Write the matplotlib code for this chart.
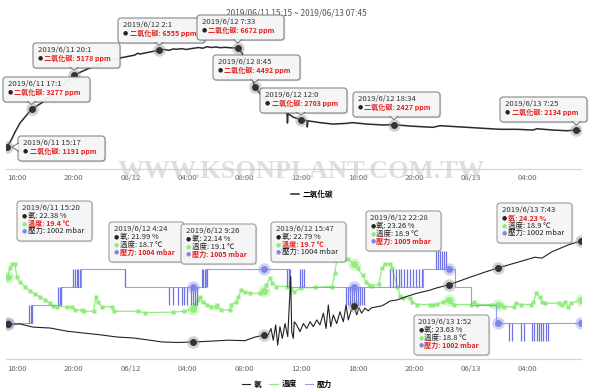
import matplotlib
matplotlib.use("Agg")
import matplotlib.pyplot as plt
from matplotlib.patches import FancyBboxPatch, Polygon
from matplotlib.lines import Line2D
from matplotlib.transforms import IdentityTransform

plt.rcParams['font.family'] = ['Noto Sans CJK TC', 'DejaVu Sans']

# ---------------- data (time = hours since 2019/06/11 00:00) ----------------
title = "2019/06/11 15:15 ~ 2019/06/13 07:45"
x_range = [15.25, 55.75]
tick_hours = [16, 20, 24, 28, 32, 36, 40, 44, 48, 52]
tick_labels = ['16:00', '20:00', '06/12', '04:00', '08:00', '12:00',
               '16:00', '20:00', '06/13', '04:00']

co2_name = '二氧化碳'
co2_t = [15.28, 15.59, 15.86, 16.21, 16.68, 17.02, 17.83, 18.54, 19.24, 20.02,
         21.11, 22.31, 23.26, 24.3, 24.5, 24.67, 26.02, 26.4, 26.7, 27.0, 27.24,
         27.6, 27.9, 28.4, 28.8, 29.1, 29.39, 29.7, 30.0, 30.31, 30.7, 31.1, 31.55,
         31.86, 32.21, 32.63, 32.75, 33.34, 33.83, 34.53, 35.03, 35.06, 35.10,
         35.45, 36.0, 36.44, 36.46, 36.5, 37.35, 38.27, 39.26, 39.61, 40.67,
         41.79, 42.57, 43.70, 45.32, 45.81, 50.04, 51.24, 52.36, 52.65, 53.77,
         54.76, 55.42, 55.75]
co2_v = [1191, 1578, 2020, 2520, 2960, 3277, 3680, 4180, 4620, 5178,
         5560, 5900, 6120, 6280, 6380, 6340, 6555, 6590, 6540, 6620, 6600,
         6640, 6590, 6655, 6700, 6660, 6745, 6700, 6730, 6690, 6710, 6680, 6672,
         6390, 5620, 4900, 4492, 3960, 3620, 3240, 3070, 2520, 3040,
         2850, 2703, 2650, 2300, 2640, 2540, 2460, 2500, 2540, 2460,
         2410, 2427, 2350, 2280, 2370, 2170, 2170, 2130, 2200, 2130,
         2090, 2134, 2080]

co2_tip_labels = ['2019/6/11 15:17', '2019/6/11 17:1', '2019/6/11 20:1',
                  '2019/6/12 2:1', '2019/6/12 7:33', '2019/6/12 8:45',
                  '2019/6/12 12:0', '2019/6/12 18:34', '2019/6/13 7:25']
co2_tip_t = [15.28, 17.02, 20.02, 26.02, 31.55, 32.75, 36.0, 42.57, 55.42]
co2_tip_v = [1191, 3277, 5178, 6555, 6672, 4492, 2703, 2427, 2134]

o2_name, temp_name, pres_name = '氧', '溫度', '壓力'
o2_t = [15.33, 16.21, 17.13, 18.33, 19.52, 20.65, 21.85, 23.05, 24.17, 25.37,
        26.22, 27.35, 28.4, 29.74, 30.87, 32.07, 32.77, 33.43, 33.71, 33.90,
        34.06, 34.23, 34.37, 34.53, 34.70, 34.89, 35.08, 35.29, 35.36, 35.47,
        35.54, 35.71, 35.94, 36.18, 36.42, 36.65, 36.88, 37.12, 37.35, 37.59,
        37.78, 37.94, 38.11, 38.29, 38.53, 38.76, 39.0, 39.19, 39.35, 39.52,
        39.78, 39.94, 40.10, 40.29, 40.52, 40.76, 40.99, 41.35, 41.70, 42.05,
        42.29, 42.76, 43.46, 44.17, 45.10, 45.58, 46.47, 47.78, 48.98, 49.87,
        51.31, 52.50, 53.0, 53.70, 54.83, 55.72]
o2_v = [22.38, 22.39, 22.32, 22.30, 22.23, 22.19, 22.15, 22.10, 22.08, 22.03,
        21.99, 21.98, 21.99, 22.01, 22.03, 22.02, 22.10, 22.14, 22.15, 22.29,
        22.03, 22.37, 21.92, 22.33, 22.07, 22.40, 22.11, 23.44, 22.22, 22.07,
        22.44, 22.37, 22.22, 22.40, 22.29, 22.44, 22.33, 22.48, 22.37, 22.63,
        22.29, 22.81, 22.33, 22.59, 22.40, 22.66, 22.44, 22.81, 22.48, 22.66,
        22.79, 22.59, 22.75, 22.63, 22.74, 22.68, 22.75, 22.77, 22.79, 22.85,
        22.90, 22.92, 23.00, 23.07, 23.14, 23.19, 23.26, 23.41, 23.54, 23.63,
        23.76, 23.87, 23.85, 23.99, 24.14, 24.23]

temp_t = [15.33, 15.50, 15.63, 15.86, 15.98, 16.21, 16.56, 16.92, 17.27, 17.62,
          17.97, 18.33, 18.54, 18.82, 19.5, 19.9, 20.1, 20.6, 20.75, 21.4,
          21.55, 21.7, 22.0, 22.7, 22.8, 24.5, 25.0, 27.0, 27.8, 28.4,
          28.55, 28.75, 28.9, 29.1, 29.4, 29.7, 30.0, 30.1, 30.35, 31.0,
          31.1, 31.4, 31.6, 31.8, 32.05, 32.4, 33.1, 33.43, 33.55, 33.85,
          34.0, 34.25, 35.0, 35.3, 35.5, 36.0, 37.0, 38.2, 38.4, 38.55,
          39.0, 39.3, 39.78, 40.0, 40.35, 40.6, 40.8, 41.0, 41.5, 41.7,
          41.9, 42.3, 42.45, 42.8, 43.0, 43.2, 43.7, 43.85, 44.2, 45.1,
          45.3, 45.6, 46.0, 46.47, 46.6, 46.8, 48.0, 48.2, 48.4, 49.4,
          49.87, 50.1, 50.3, 51.0, 51.15, 51.5, 52.2, 52.4, 52.6, 52.85,
          53.0, 53.2, 54.2, 54.4, 54.6, 54.85, 55.05, 55.72]
temp_v = [19.40, 19.62, 19.70, 19.70, 19.40, 19.30, 19.20, 19.10, 19.03, 18.97,
          18.90, 18.83, 18.77, 18.75, 18.75, 18.75, 18.68, 18.68, 18.65, 18.65,
          18.97, 18.85, 18.75, 18.75, 18.65, 18.65, 18.62, 18.63, 18.65, 18.70,
          18.80, 18.90, 18.97, 18.85, 18.80, 18.75, 18.75, 18.80, 18.68, 18.68,
          18.80, 18.85, 18.97, 19.12, 19.08, 19.05, 19.05, 19.10, 19.23, 19.38,
          19.28, 19.20, 19.20, 19.15, 19.08, 19.17, 19.18, 19.20, 19.50, 19.83,
          19.83, 19.80, 19.70, 19.60, 19.45, 19.30, 19.23, 19.22, 19.25, 19.60,
          19.70, 19.70, 19.60, 19.20, 19.00, 18.95, 18.95, 18.85, 18.80, 18.80,
          18.78, 18.82, 18.85, 18.90, 18.85, 18.80, 18.80, 18.85, 18.80, 18.80,
          18.80, 18.78, 18.75, 18.75, 18.83, 18.80, 18.80, 18.85, 19.05, 18.97,
          18.85, 18.83, 18.83, 18.80, 18.85, 18.75, 18.83, 18.90]

pres_t = [15.25, 17.06, 19.10, 20.51, 23.61, 29.32, 35.17, 44.61, 46.87, 48.0,
          49.76, 55.75]
pres_v = [1002, 1003, 1004, 1005, 1004, 1005, 1004, 1005, 1004, 1003,
          1002, 1002]
# short flickers between two levels (time, low, high)
flick_t = [16.85, 16.95, 17.06,
           18.91, 19.0, 19.10,
           19.93, 20.09, 20.21, 20.32, 20.44,
           23.61,
           26.73, 27.01, 27.31, 27.62, 27.78, 28.01, 28.25, 28.37, 28.56, 28.68,
           29.04, 29.14, 29.25, 29.36,
           35.03, 35.14, 35.24, 35.95, 36.09, 36.23,
           39.18, 39.32, 39.46, 39.60, 39.74, 39.88, 40.02, 40.16, 40.30, 40.44,
           42.29, 42.50, 42.71, 42.92, 43.06, 43.27, 43.48, 43.69, 43.90, 44.11, 44.32, 44.53,
           45.53, 45.67, 45.81, 45.95, 46.09, 46.23,
           50.67, 50.91, 51.52, 51.76, 52.28, 52.46, 52.63, 52.79, 52.94, 53.10, 53.27, 53.45]
flick_lo = [1002] * 3 + [1003] * 3 + [1004] * 5 + [1004] + [1003] * 10 + \
           [1004] * 4 + [1004] * 6 + [1003] * 10 + [1004] * 12 + [1005] * 6 + [1001] * 12
flick_hi = [1003] * 3 + [1004] * 3 + [1005] * 5 + [1005] + [1004] * 10 + \
           [1005] * 4 + [1005] * 6 + [1004] * 10 + [1005] * 12 + [1006] * 6 + [1002] * 12

tip_labels = ['2019/6/11 15:20', '2019/6/12 4:24', '2019/6/12 9:26',
              '2019/6/12 15:47', '2019/6/12 22:28', '2019/6/13 1:52',
              '2019/6/13 7:43']
tip_t = [15.33, 28.4, 33.43, 39.78, 46.47, 49.87, 55.72]
tip_o2 = [22.38, 21.99, 22.14, 22.79, 23.26, 23.63, 24.23]
tip_temp = [19.4, 18.7, 19.1, 19.7, 18.9, 18.8, 18.9]
tip_pres = [1002, 1004, 1005, 1004, 1005, 1002, 1002]
tip_hi = [1, 2, 2, 1, 2, 2, 0]   # which series is highlighted in red

# ---------------- layout / style ----------------
W, H = 600, 392
C_CO2, C_O2, C_T, C_P = '#2b2b2b', '#222222', '#90ed7d', '#8085e9'
RED = '#e3201f'
AXC = '#ccd6eb'
TXT = '#555555'

fig = plt.figure(figsize=(W / 100, H / 100), dpi=100)
fig.patch.set_facecolor('white')
PX = IdentityTransform()


def axes_px(left, top, right, bottom):
    return fig.add_axes([left / W, 1 - bottom / H, (right - left) / W, (bottom - top) / H])


def style_axis(a):
    for s in ['top', 'left', 'right']:
        a.spines[s].set_visible(False)
    a.spines['bottom'].set_color(AXC)
    a.spines['bottom'].set_linewidth(0.9)
    a.set_yticks([])
    a.set_xlim(*x_range)
    a.set_xticks(tick_hours)
    a.set_xticklabels(tick_labels)
    a.tick_params(axis='x', length=0, labelsize=5.6, colors='#666666', pad=4)
    a.patch.set_alpha(0)


# top chart
ax1 = axes_px(6.4, 15, 581, 168.5)
style_axis(ax1)
ax1.set_ylim(0, 8500)
l_co2, = ax1.plot(co2_t, co2_v, color=C_CO2, lw=1.1, zorder=3)
ax1.plot(co2_tip_t, co2_tip_v, 'o', ms=9, color='#9a9a9a', alpha=0.45, mec='none', zorder=4)
ax1.plot(co2_tip_t, co2_tip_v, 'o', ms=5, color='#333333', mec='none', zorder=5)

# bottom chart (three value scales)
ax2 = axes_px(6.4, 205, 581, 359)
style_axis(ax2)
ax2.set_ylim(21.613, 25.028)
ax2t = ax2.twinx()
ax2p = ax2.twinx()
for a in (ax2t, ax2p):
    for s in a.spines.values():
        s.set_visible(False)
    a.set_yticks([])
    a.patch.set_alpha(0)
ax2t.set_ylim(17.589, 21.011)
ax2p.set_ylim(1000.0, 1008.556)
ax2.set_zorder(3)
ax2t.set_zorder(1)
ax2p.set_zorder(2)

l_p, = ax2p.step(pres_t, pres_v, where='post', color='#9a9df0', lw=0.8)
ax2p.vlines(flick_t, flick_lo, flick_hi, color='#6f73e3', lw=0.9)
ax2t.plot(temp_t, temp_v, color=C_T, lw=0.9, marker='s', ms=2.2, mec='none')
l_o, = ax2.plot(o2_t, o2_v, color=C_O2, lw=0.8)
l_t = Line2D([], [], color=C_T, lw=0.9)

ax2.plot(tip_t, tip_o2, 'o', ms=9, color='#9a9a9a', alpha=0.45, mec='none')
ax2.plot(tip_t, tip_o2, 'o', ms=5, color='#333333', mec='none')
ax2t.plot(tip_t, tip_temp, 'o', ms=9, color=C_T, alpha=0.35, mec='none')
ax2t.plot(tip_t, tip_temp, 'o', ms=5, color=C_T, mec='none')
ax2p.plot(tip_t, tip_pres, 'o', ms=9, color=C_P, alpha=0.35, mec='none')
ax2p.plot(tip_t, tip_pres, 'o', ms=5, color=C_P, mec='none')

# titles / legends
fig.text(296 / W, 1 - 13 / H, title, ha='center', va='center', fontsize=6, color=TXT)
fig.legend([l_co2], [co2_name], loc='center', bbox_to_anchor=(312 / W, 1 - 194 / H),
           frameon=False, handlelength=1.1, handletextpad=0.5,
           prop={'weight': 'bold', 'size': 5.5})
fig.legend([l_o, l_t, l_p], [o2_name, temp_name, pres_name], loc='center', ncol=3,
           bbox_to_anchor=(287 / W, 1 - 384 / H), frameon=False,
           handlelength=1.1, handletextpad=0.5, columnspacing=1.0,
           prop={'weight': 'bold', 'size': 5.5})


# ---------------- tooltips ----------------
def draw_box(left, top, w, h, edge, z):
    y0 = H - top - h
    sh = FancyBboxPatch((left + 1.2, y0 - 1.2), w, h, boxstyle='round,pad=0,rounding_size=3',
                        transform=PX, fc='black', ec='none', alpha=0.13, zorder=z)
    bx = FancyBboxPatch((left, y0), w, h, boxstyle='round,pad=0,rounding_size=3',
                        transform=PX, fc='#f7f7f7', ec=edge, lw=0.7, alpha=0.95, zorder=z + 0.1)
    fig.add_artist(sh)
    fig.add_artist(bx)


def draw_pointer(ax, t, v, left, top, w, h, edge, z):
    dx, dy = ax.transData.transform((t, v))
    bottom_d = H - top - h
    if dy < bottom_d - 3:
        bx = min(max(dx, left + 5), left + w - 5)
        base = [(bx - 4, bottom_d + 0.6), (bx + 4, bottom_d + 0.6)]
        tip = (dx, dy + 5)
    else:
        cy = dy
        base = [(left + 0.6, cy + 4), (left + 0.6, cy - 4)]
        tip = (dx + 5, cy)
    poly = Polygon([base[0], tip, base[1]], closed=True, transform=PX, fc='#f7f7f7',
                   ec='none', zorder=z + 0.2)
    fig.add_artist(poly)
    fig.add_artist(Line2D([base[0][0], tip[0], base[1][0]], [base[0][1], tip[1], base[1][1]],
                          transform=PX, color=edge, lw=0.7, zorder=z + 0.3))


def put(x, y, s, color, weight='normal', size=5.6, z=40):
    fig.text(x, H - y, s, transform=PX, ha='left', va='center', fontsize=size,
             color=color, fontweight=weight, zorder=z)


def bullet(x, y, color, z=40):
    fig.text(x, H - y, '●', transform=PX, ha='center', va='center', fontsize=4.2,
             color=color, family='DejaVu Sans', zorder=z)


co2_boxes = [(18, 136), (3, 77), (33, 43), (118, 18), (197, 15), (213, 55),
             (260, 88), (353, 92), (500, 97)]
for i, (lab, t, v) in enumerate(zip(co2_tip_labels, co2_tip_t, co2_tip_v)):
    left, top = co2_boxes[i]
    w, h = 87, 25
    z = 20 + i
    draw_box(left, top, w, h, '#707070', z)
    draw_pointer(ax1, t, v, left, top, w, h, '#707070', z)
    put(left + 5, top + 7, lab, '#333333', z=z + 0.5)
    bullet(left + 7.5, top + 15, '#222222', z=z + 0.5)
    put(left + 11.5, top + 15, f'{co2_name}: {v} ppm', RED, 'bold', size=5.1, z=z + 0.5)

bot_boxes = [(17, 201), (109, 222), (181, 224), (271, 222), (366, 211), (414, 315), (497, 203)]
for i, lab in enumerate(tip_labels):
    left, top = bot_boxes[i]
    w, h = 75, 40
    z = 30 + i
    draw_box(left, top, w, h, '#8a8a8a', z)
    put(left + 4.5, top + 7, lab, '#333333', z=z + 0.5)
    rows = [(C_O2, f'{o2_name}: {tip_o2[i]:.2f} %'),
            (C_T, f'{temp_name}: {tip_temp[i]:.1f} ℃'),
            (C_P, f'{pres_name}: {tip_pres[i]} mbar')]
    for k, (c, s) in enumerate(rows):
        yy = top + 15 + 7.7 * k
        bullet(left + 6.8, yy, c, z=z + 0.5)
        hi = (k == tip_hi[i])
        put(left + 10.5, yy, s, RED if hi else '#222222', 'bold' if hi else 'normal',
            size=5.1 if hi else 5.4, z=z + 0.5)

# watermark
fig.text(301 / W, 1 - 172 / H, 'WWW.KSONPLANT.COM.TW', ha='center', va='center',
         fontsize=19, family='Liberation Serif', fontweight='bold', color='#c9c9c9',
         alpha=0.6, zorder=60)

fig.savefig('out.png', dpi=100)
